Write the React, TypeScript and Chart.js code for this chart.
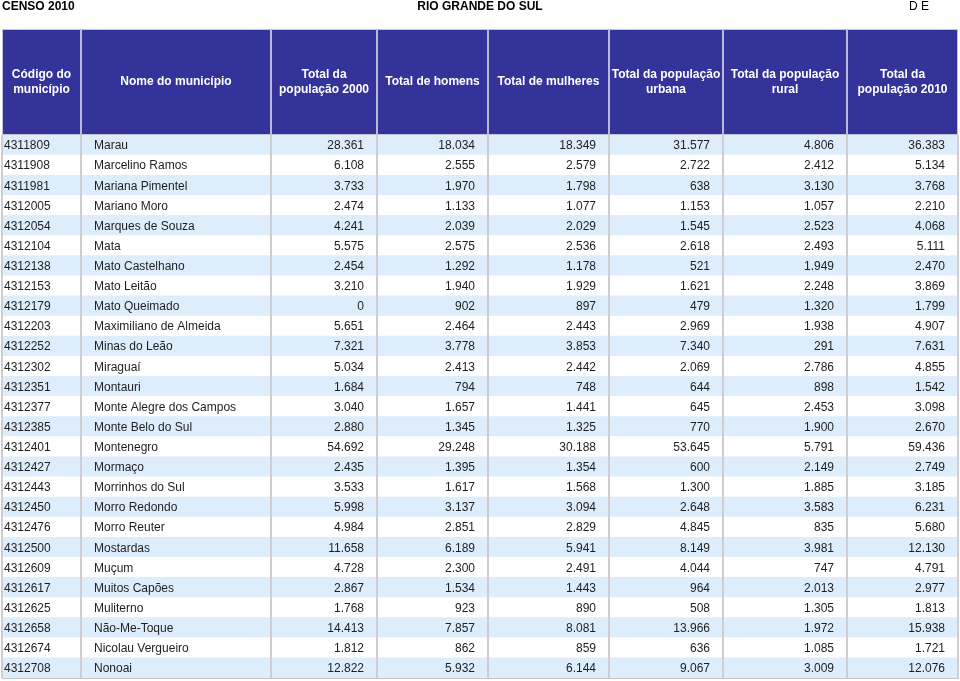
import { useEffect, useRef } from 'react';
import { Chart, registerables } from 'chart.js';

Chart.register(...registerables);

const TITLE_LEFT = 'CENSO 2010';
const TITLE_CENTER = 'RIO GRANDE DO SUL';
const TITLE_RIGHT = 'D E';

const headers: string[][] = [
  ['Código do', 'município'],
  ['Nome do município'],
  ['Total da', 'população 2000'],
  ['Total de homens'],
  ['Total de mulheres'],
  ['Total da população', 'urbana'],
  ['Total da população', 'rural'],
  ['Total da', 'população 2010'],
];

const codes = [
  '4311809', '4311908', '4311981', '4312005', '4312054', '4312104', '4312138', '4312153', '4312179',
  '4312203', '4312252', '4312302', '4312351', '4312377', '4312385', '4312401', '4312427', '4312443',
  '4312450', '4312476', '4312500', '4312609', '4312617', '4312625', '4312658', '4312674', '4312708',
];

const names = [
  'Marau', 'Marcelino Ramos', 'Mariana Pimentel', 'Mariano Moro', 'Marques de Souza', 'Mata',
  'Mato Castelhano', 'Mato Leitão', 'Mato Queimado', 'Maximiliano de Almeida', 'Minas do Leão',
  'Miraguaí', 'Montauri', 'Monte Alegre dos Campos', 'Monte Belo do Sul', 'Montenegro', 'Mormaço',
  'Morrinhos do Sul', 'Morro Redondo', 'Morro Reuter', 'Mostardas', 'Muçum', 'Muitos Capões',
  'Muliterno', 'Não-Me-Toque', 'Nicolau Vergueiro', 'Nonoai',
];

const pop2000 = [28361, 6108, 3733, 2474, 4241, 5575, 2454, 3210, 0, 5651, 7321, 5034, 1684, 3040, 2880, 54692, 2435, 3533, 5998, 4984, 11658, 4728, 2867, 1768, 14413, 1812, 12822];
const homens = [18034, 2555, 1970, 1133, 2039, 2575, 1292, 1940, 902, 2464, 3778, 2413, 794, 1657, 1345, 29248, 1395, 1617, 3137, 2851, 6189, 2300, 1534, 923, 7857, 862, 5932];
const mulheres = [18349, 2579, 1798, 1077, 2029, 2536, 1178, 1929, 897, 2443, 3853, 2442, 748, 1441, 1325, 30188, 1354, 1568, 3094, 2829, 5941, 2491, 1443, 890, 8081, 859, 6144];
const urbana = [31577, 2722, 638, 1153, 1545, 2618, 521, 1621, 479, 2969, 7340, 2069, 644, 645, 770, 53645, 600, 1300, 2648, 4845, 8149, 4044, 964, 508, 13966, 636, 9067];
const rural = [4806, 2412, 3130, 1057, 2523, 2493, 1949, 2248, 1320, 1938, 291, 2786, 898, 2453, 1900, 5791, 2149, 1885, 3583, 835, 3981, 747, 2013, 1305, 1972, 1085, 3009];
const pop2010 = [36383, 5134, 3768, 2210, 4068, 5111, 2470, 3869, 1799, 4907, 7631, 4855, 1542, 3098, 2670, 59436, 2749, 3185, 6231, 5680, 12130, 4791, 2977, 1813, 15938, 1721, 12076];

const numericCols = [pop2000, homens, mulheres, urbana, rural, pop2010];

// Layout (table column edges in x-scale units)
const COL_EDGES = [2, 81, 271, 377, 488, 609, 723, 847, 958];

const FONT = '"Liberation Sans", Arial, Helvetica, sans-serif';
const HEADER_BLUE = '#333399';
const ROW_BLUE = '#ddedfc';

const fmt = (n: number) => String(n).replace(/\B(?=(\d{3})+(?!\d))/g, '.');

const tablePlugin = {
  id: 'tableText',
  afterDraw(chart: any) {
    const { ctx, chartArea, scales } = chart;
    const xs = scales.x;
    const ys = scales.y;
    const edge = (i: number) => xs.getPixelForValue(COL_EDGES[i]);
    ctx.save();

    // Titles
    ctx.textBaseline = 'middle';
    ctx.fillStyle = '#000000';
    ctx.font = `bold 12px ${FONT}`;
    ctx.textAlign = 'left';
    ctx.fillText(TITLE_LEFT, edge(0), 7);
    ctx.textAlign = 'center';
    ctx.fillText(TITLE_CENTER, (chartArea.left + chartArea.right) / 2, 7);
    ctx.font = `12px ${FONT}`;
    ctx.textAlign = 'left';
    ctx.fillText(TITLE_RIGHT, chartArea.right - 49, 7);

    // Header block
    const hTop = 29;
    const hBottom = chartArea.top - 1;
    ctx.fillStyle = HEADER_BLUE;
    ctx.fillRect(edge(0), hTop, edge(8) - edge(0), hBottom - hTop);
    ctx.strokeStyle = '#c4c4d8';
    ctx.lineWidth = 1;
    ctx.strokeRect(edge(0) + 0.5, hTop + 0.5, edge(8) - edge(0) - 1, hBottom - hTop);
    ctx.strokeStyle = '#b8b8d8';
    ctx.lineWidth = 2;
    for (let i = 1; i < COL_EDGES.length - 1; i++) {
      const x = Math.round(edge(i));
      ctx.beginPath();
      ctx.moveTo(x, hTop);
      ctx.lineTo(x, hBottom + 1);
      ctx.stroke();
    }
    ctx.fillStyle = '#ffffff';
    ctx.font = `bold 12px ${FONT}`;
    ctx.textAlign = 'center';
    const midY = (hTop + hBottom) / 2 + 0.5;
    headers.forEach((lines, c) => {
      const cx = (edge(c) + edge(c + 1)) / 2;
      const n = lines.length;
      lines.forEach((ln, k) => {
        ctx.fillText(ln, cx, midY + (k - (n - 1) / 2) * 15);
      });
    });

    // Body text
    ctx.fillStyle = '#1e1e1e';
    ctx.font = `12px ${FONT}`;
    codes.forEach((code, r) => {
      const yy = ys.getPixelForValue(r) + 1;
      ctx.textAlign = 'left';
      ctx.fillText(code, edge(0) + 2, yy);
      ctx.fillText(names[r], edge(1) + 13, yy);
      ctx.textAlign = 'right';
      numericCols.forEach((col, c) => {
        ctx.fillText(fmt(col[r]), edge(c + 3) - 13, yy);
      });
    });
    ctx.restore();
  },
};

export default function App() {
  const ref = useRef<HTMLCanvasElement | null>(null);

  useEffect(() => {
    document.body.style.margin = '0';
    const canvas = ref.current;
    if (!canvas) return;
    const chart = new Chart(canvas, {
      type: 'bar',
      data: {
        labels: codes,
        datasets: [
          {
            label: 'rows',
            data: codes.map(() => [COL_EDGES[0], COL_EDGES[COL_EDGES.length - 1]]) as any,
            backgroundColor: codes.map((_, i) => (i % 2 === 0 ? ROW_BLUE : '#ffffff')),
            borderWidth: 0,
            barPercentage: 1,
            categoryPercentage: 1,
          },
        ],
      },
      options: {
        indexAxis: 'y',
        animation: false,
        responsive: false,
        events: [],
        layout: { padding: { top: 135, left: 2, right: 2, bottom: 3 } },
        plugins: {
          legend: { display: false },
          tooltip: { enabled: false },
          title: { display: false },
        },
        scales: {
          x: {
            type: 'linear',
            min: COL_EDGES[0],
            max: COL_EDGES[COL_EDGES.length - 1],
            afterBuildTicks: (scale: any) => {
              scale.ticks = COL_EDGES.map((v) => ({ value: v }));
            },
            afterFit: (scale: any) => {
              scale.height = 0;
            },
            ticks: { display: false },
            grid: { color: '#cdcdd2', lineWidth: 2, drawTicks: false, z: 1 },
            border: { display: true, color: '#c4c4c8', width: 1, z: 1 },
          },
          y: {
            type: 'category',
            display: false,
            grid: { display: false },
          },
        },
      },
      plugins: [tablePlugin],
    } as any);
    return () => chart.destroy();
  }, []);

  return <canvas ref={ref} width={960} height={681} style={{ display: 'block' }} />;
}
